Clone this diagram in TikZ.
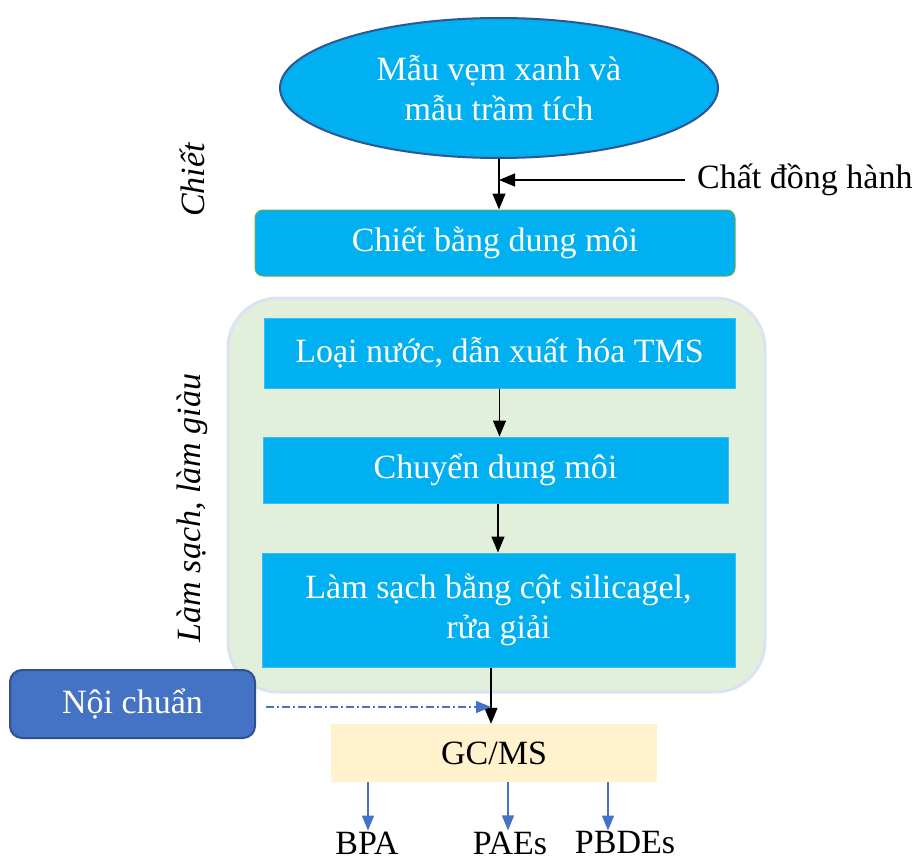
\documentclass[tikz,border=0pt]{standalone}
\usepackage{fontspec}
\setmainfont{Liberation Serif}
\usetikzlibrary{shapes.geometric,arrows.meta,calc}
\definecolor{cyanbox}{HTML}{00B0F0}
\definecolor{navy}{HTML}{2F5597}
\definecolor{greenfill}{HTML}{E2EFDA}
\definecolor{greenedge}{HTML}{DAE3F3}
\definecolor{boxedge}{HTML}{70AD47}
\definecolor{blueA}{HTML}{4472C4}
\definecolor{blueB}{HTML}{2F528F}
\definecolor{yellowfill}{HTML}{FFF2CC}
\begin{document}
\begin{tikzpicture}[x=1pt,y=-1pt,
  txt/.style={font=\fontsize{34}{40}\selectfont},
  stepbox/.style={txt, fill=cyanbox, text=white, draw=cyanbox!80!white, line width=1pt, align=center, inner sep=0pt},
  blk/.style={-{Triangle[length=16pt,width=13pt]}, line width=1.3pt, black},
  blu/.style={-{Triangle[length=15pt,width=12pt]}, line width=1.3pt, blueA},
  lbl/.style={font=\fontsize{34}{40}\selectfont\itshape, rotate=90}
]
\useasboundingbox (0,0) rectangle (918,864);
% container
\node[draw=greenedge, line width=3pt, fill=greenfill, rounded corners=50pt, minimum width=537pt, minimum height=394pt, inner sep=0pt] (cont) at (496.5,495) {};
% ellipse
\node[ellipse, fill=cyanbox, draw=navy, line width=2pt, minimum width=438pt, minimum height=140pt, inner sep=0pt, txt, text=white, align=center] (ell) at (499,88) {Mẫu vẹm xanh và\\mẫu trầm tích};
% boxes
\node[stepbox, draw=boxedge, rounded corners=8pt, minimum width=480pt, minimum height=66pt] (chiet) at (495,243) {Chiết bằng dung môi};
\node[stepbox, minimum width=471pt, minimum height=70pt] (loai) at (499.5,353) {Loại nước, dẫn xuất hóa TMS};
\node[stepbox, minimum width=465pt, minimum height=66pt] (chuyen) at (495.5,470) {Chuyển dung môi};
\node[stepbox, minimum width=473pt, minimum height=114pt] (lamsach) at (498.5,610) {Làm sạch bằng cột silicagel,\\rửa giải};
\node[txt, fill=yellowfill, minimum width=326pt, minimum height=58pt, inner sep=0pt] (gcms) at (494,753) {GC/MS};
\node[txt, fill=blueA, draw=blueB, line width=2pt, rounded corners=12pt, text=white, minimum width=245pt, minimum height=68pt, inner sep=0pt] (noi) at (132.5,704) {Nội chuẩn};
% side labels
\node[lbl] (lchiet) at (192,180) {Chiết};
\node[lbl] (llam) at (192,508) {Làm sạch, làm giàu};
% chat dong hanh
\node[txt, anchor=west, inner sep=0pt] (cdh) at (697,180) {Chất đồng hành};
% arrows
\draw[blk] (ell.south) -- (ell.south |- chiet.north);
\draw[blk] ([xshift=-12pt]cdh.west) -- (ell.south |- cdh.west);
\draw[blk] (loai.south) -- (loai.south |- chuyen.north);
\coordinate (c1) at ([xshift=-1.5pt]loai.south |- chuyen.south);
\coordinate (c2) at ([xshift=-1.5pt]loai.south |- lamsach.north);
\draw[blk] (c1) -- (c2);
\coordinate (g1) at ([xshift=-3pt]gcms.north |- lamsach.south);
\coordinate (g2) at ([xshift=-3pt]gcms.north);
\draw[blk] (g1) -- (g2);
\coordinate (ntip) at ([yshift=-3pt]g2 |- noi.east);
\coordinate (nstart) at ([xshift=10pt,yshift=-3pt]noi.east);
\draw[blu, dash pattern=on 8pt off 3pt on 2pt off 3pt, line width=1.4pt] (nstart) -- (ntip);
% outputs
\node[txt, inner sep=1pt] (bpa) at (367,843) {BPA};
\node[txt, inner sep=1pt] (pae) at (510,843) {PAEs};
\node[txt, inner sep=1pt] (pbde) at (625,843) {PBDEs};
\draw[blu] ([xshift=1pt]bpa.north |- gcms.south) -- ([xshift=1pt]bpa.north);
\draw[blu] ([xshift=-2pt]pae.north |- gcms.south) -- ([xshift=-2pt]pae.north);
\draw[blu] ([xshift=-17pt]pbde.north |- gcms.south) -- ([xshift=-17pt]pbde.north);
\end{tikzpicture}
\end{document}
